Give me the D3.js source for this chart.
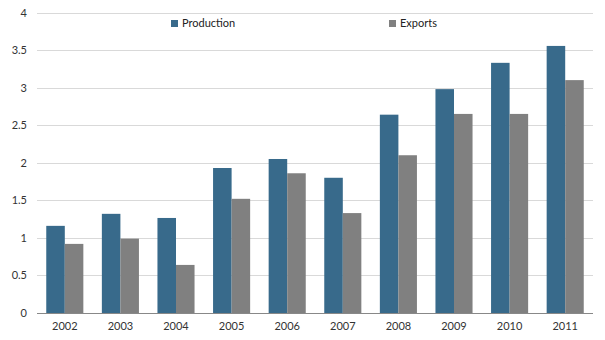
<!DOCTYPE html>
<html><head><meta charset="utf-8">
<script src="https://cdn.jsdelivr.net/npm/d3@7"></script>
<style>body{margin:0;background:#fff}svg{display:block;font-family:Lato,"Open Sans",sans-serif}</style>
</head><body><svg id="c" width="605" height="340"></svg>
<script>
const years = ["2002","2003","2004","2005","2006","2007","2008","2009","2010","2011"];
const production = [1.16,1.32,1.265,1.93,2.05,1.80,2.64,2.98,3.33,3.555];
const exports_ = [0.92,0.99,0.64,1.52,1.86,1.33,2.10,2.65,2.65,3.10];
const yTicks = [0,0.5,1,1.5,2,2.5,3,3.5,4];
const seriesNames = ["Production","Exports"];
const colors = ["#386a8b","#808080"];

(function(){
const svg = d3.select("#c");
const mL = 37, mR = 593, mT = 12.5, mB = 313;
const x = d3.scaleBand().domain(years).range([mL,mR]).paddingInner(0.333).paddingOuter(0.1665);
const x1 = d3.scaleBand().domain(seriesNames).range([0,x.bandwidth()]);
const y = d3.scaleLinear().domain([0,4]).range([mB,mT]);

svg.append("g").selectAll("line").data(yTicks.filter(d=>d>0)).join("line")
  .attr("x1",mL).attr("x2",mR).attr("y1",d=>Math.round(y(d))+0.5).attr("y2",d=>Math.round(y(d))+0.5)
  .attr("stroke","#d9d9d9").attr("stroke-width",1);

svg.append("g").selectAll("text").data(yTicks).join("text")
  .attr("x",27).attr("y",d=>y(d)+4).attr("text-anchor","end")
  .attr("font-size",11).attr("fill","#333").text(d=>d);

const data = years.map((yr,i)=>({yr,vals:[production[i],exports_[i]]}));
const g = svg.append("g").selectAll("g").data(data).join("g").attr("transform",d=>`translate(${x(d.yr)},0)`);
g.selectAll("rect").data(d=>d.vals.map((v,j)=>({v,s:seriesNames[j],j}))).join("rect")
  .attr("x",d=>x1(d.s)).attr("width",x1.bandwidth())
  .attr("y",d=>y(d.v)).attr("height",d=>y(0)-y(d.v)).attr("fill",d=>colors[d.j]);

svg.append("line").attr("x1",mL).attr("x2",mR).attr("y1",Math.round(y(0))+0.5).attr("y2",Math.round(y(0))+0.5)
  .attr("stroke","#888").attr("stroke-width",1);

svg.append("g").selectAll("text").data(years).join("text")
  .attr("x",d=>x(d)+x.bandwidth()/2).attr("y",330).attr("text-anchor","middle")
  .attr("font-size",11).attr("fill","#333").text(d=>d);

const legX = [171,389];
const lg = svg.append("g").selectAll("g").data(seriesNames).join("g").attr("transform",(d,i)=>`translate(${legX[i]},20)`);
lg.append("rect").attr("width",7).attr("height",7).attr("fill",(d,i)=>colors[i]);
lg.append("text").attr("x",11).attr("y",7).attr("font-size",11).attr("fill","#222").text(d=>d);
})();
</script></body></html>
